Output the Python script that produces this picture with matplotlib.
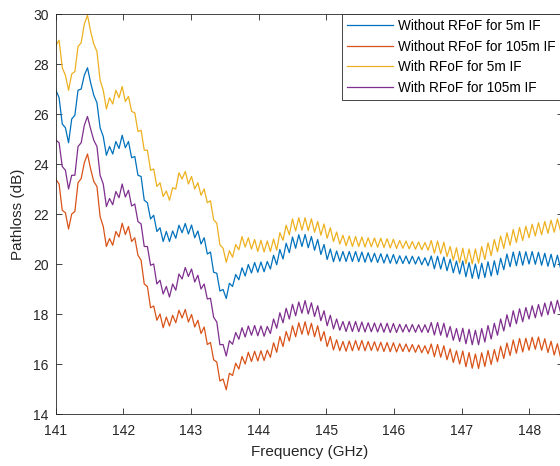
import numpy as np
import matplotlib
matplotlib.use('Agg')
import matplotlib.pyplot as plt

plt.rcParams['font.family'] = ['Liberation Sans', 'DejaVu Sans']

# frequency sweep (GHz)
freq = np.linspace(140.96, 148.46, 162)

# Without RFoF for 5m IF (blue)
pl_wo_5m = [
    27.50, 26.95, 26.65, 25.60, 25.45, 24.85, 25.80, 25.95, 26.95, 27.00,
    27.55, 27.85, 27.25, 26.75, 26.45, 25.45, 25.10, 24.35, 24.70, 24.40,
    24.90, 24.62, 25.15, 24.65, 24.90, 24.25, 24.30, 23.55, 23.50, 22.55,
    22.45, 21.80, 21.95, 21.30, 21.45, 20.90, 21.30, 20.90, 21.32, 21.03,
    21.55, 21.25, 21.62, 21.20, 21.56, 21.05, 21.32, 20.80, 21.05, 20.40,
    20.48, 19.67, 19.63, 18.92, 18.98, 18.62, 19.23, 19.10, 19.58, 19.37,
    19.85, 19.52, 19.98, 19.64, 20.06, 19.67, 20.08, 19.69, 20.10, 19.80,
    20.35, 19.97, 20.58, 20.20, 20.83, 20.45, 21.08, 20.63, 21.17, 20.70,
    21.18, 20.65, 21.10, 20.55, 20.98, 20.38, 20.78, 20.18, 20.60, 20.09,
    20.52, 20.11, 20.50, 20.10, 20.50, 20.10, 20.50, 20.09, 20.48, 20.07,
    20.45, 20.08, 20.43, 20.06, 20.41, 20.04, 20.39, 20.03, 20.38, 20.01,
    20.33, 20.02, 20.32, 20.01, 20.31, 20.00, 20.29, 19.97, 20.25, 19.93,
    20.32, 19.81, 20.31, 19.80, 20.28, 19.73, 20.19, 19.65, 20.12, 19.60,
    20.12, 19.49, 20.06, 19.43, 20.00, 19.41, 20.03, 19.46, 20.09, 19.52,
    20.13, 19.57, 20.23, 19.77, 20.40, 19.89, 20.48, 19.93, 20.50, 19.95,
    20.49, 20.00, 20.50, 19.99, 20.47, 19.95, 20.43, 19.91, 20.39, 19.87,
    20.35, 19.83,
]

# Without RFoF for 105m IF (orange)
pl_wo_105m = [
    23.90, 23.38, 23.20, 22.15, 22.05, 21.40, 22.00, 22.10, 23.25, 23.42,
    24.05, 24.40, 23.80, 23.30, 23.10, 21.90, 21.50, 20.70, 21.02, 20.75,
    21.30, 21.08, 21.63, 21.18, 21.50, 20.90, 21.05, 20.35, 20.15, 19.20,
    19.10, 18.25, 18.32, 17.75, 18.00, 17.45, 17.88, 17.52, 17.95, 17.65,
    18.15, 17.84, 18.18, 17.68, 17.98, 17.48, 17.75, 17.22, 17.48, 16.78,
    16.86, 16.17, 16.08, 15.32, 15.40, 14.97, 15.63, 15.54, 16.03, 15.80,
    16.30, 16.00, 16.47, 16.10, 16.51, 16.12, 16.53, 16.14, 16.55, 16.27,
    16.85, 16.47, 17.10, 16.70, 17.30, 16.92, 17.53, 17.09, 17.65, 17.19,
    17.69, 17.16, 17.63, 17.09, 17.53, 16.92, 17.30, 16.70, 17.10, 16.56,
    16.97, 16.53, 16.90, 16.51, 16.92, 16.53, 16.94, 16.55, 16.94, 16.53,
    16.90, 16.54, 16.89, 16.52, 16.87, 16.50, 16.86, 16.49, 16.85, 16.48,
    16.81, 16.50, 16.80, 16.49, 16.78, 16.47, 16.76, 16.45, 16.73, 16.41,
    16.80, 16.29, 16.78, 16.27, 16.73, 16.17, 16.61, 16.06, 16.53, 16.00,
    16.52, 15.89, 16.46, 15.83, 16.40, 15.82, 16.45, 15.90, 16.54, 15.98,
    16.58, 16.09, 16.71, 16.22, 16.84, 16.34, 16.96, 16.43, 17.02, 16.48,
    17.03, 16.55, 17.07, 16.59, 17.08, 16.55, 17.01, 16.46, 16.91, 16.36,
    16.81, 16.26,
]

# With RFoF for 5m IF (yellow)
pl_w_5m = [
    29.30, 28.75, 28.95, 27.85, 27.55, 26.95, 27.60, 27.70, 28.70, 28.85,
    29.60, 29.95, 29.30, 28.80, 28.50, 27.35, 26.95, 26.20, 26.65, 26.40,
    26.95, 26.65, 27.10, 26.50, 26.70, 26.10, 26.05, 25.30, 25.35, 24.55,
    24.55, 23.75, 23.80, 23.10, 23.25, 22.70, 22.92, 22.55, 23.05, 23.00,
    23.65, 23.40, 23.70, 23.20, 23.50, 23.00, 23.25, 22.75, 23.00, 22.45,
    22.53, 21.77, 21.63, 20.77, 20.63, 20.07, 20.53, 20.27, 20.78, 20.57,
    21.10, 20.68, 21.05, 20.60, 20.98, 20.50, 20.95, 20.48, 20.92, 20.50,
    21.00, 20.55, 21.25, 20.95, 21.55, 21.17, 21.80, 21.32, 21.85, 21.35,
    21.85, 21.33, 21.81, 21.27, 21.70, 21.15, 21.60, 21.03, 21.45, 20.90,
    21.28, 20.80, 21.15, 20.73, 21.12, 20.70, 21.10, 20.70, 21.08, 20.68,
    21.05, 20.69, 21.04, 20.67, 21.03, 20.66, 21.01, 20.64, 20.99, 20.62,
    20.94, 20.63, 20.92, 20.61, 20.90, 20.59, 20.88, 20.57, 20.86, 20.55,
    20.94, 20.43, 20.92, 20.41, 20.87, 20.30, 20.70, 20.15, 20.65, 20.05,
    20.63, 20.01, 20.60, 20.00, 20.60, 20.03, 20.70, 20.18, 20.85, 20.33,
    20.98, 20.49, 21.12, 20.62, 21.25, 20.75, 21.38, 20.86, 21.46, 20.94,
    21.51, 21.05, 21.59, 21.12, 21.65, 21.17, 21.70, 21.23, 21.75, 21.27,
    21.80, 21.32,
]

# With RFoF for 105m IF (purple)
pl_w_105m = [
    25.50, 24.95, 24.85, 23.90, 23.75, 23.00, 23.55, 23.55, 24.70, 24.85,
    25.55, 25.90, 25.40, 24.95, 24.70, 23.55, 23.20, 22.30, 22.62, 22.37,
    22.90, 22.65, 23.20, 22.68, 22.95, 22.32, 22.40, 21.70, 21.60, 20.70,
    20.70, 19.95, 20.00, 19.20, 19.35, 18.80, 19.10, 18.68, 19.20, 18.95,
    19.60, 19.40, 19.86, 19.50, 19.80, 19.28, 19.55, 19.00, 19.20, 18.60,
    18.63, 17.87, 17.68, 16.77, 16.78, 16.32, 16.93, 16.79, 17.26, 16.99,
    17.45, 17.08, 17.52, 17.15, 17.54, 17.13, 17.52, 17.11, 17.50, 17.22,
    17.80, 17.43, 18.05, 17.65, 18.23, 17.80, 18.39, 17.93, 18.48, 18.03,
    18.54, 18.00, 18.45, 17.90, 18.33, 17.73, 18.13, 17.53, 17.95, 17.40,
    17.80, 17.35, 17.70, 17.30, 17.70, 17.30, 17.70, 17.29, 17.68, 17.28,
    17.65, 17.29, 17.64, 17.28, 17.63, 17.27, 17.63, 17.26, 17.62, 17.26,
    17.59, 17.28, 17.58, 17.28, 17.58, 17.27, 17.57, 17.27, 17.57, 17.26,
    17.66, 17.16, 17.66, 17.15, 17.63, 17.07, 17.50, 16.95, 17.42, 16.90,
    17.43, 16.81, 17.39, 16.77, 17.35, 16.77, 17.42, 16.88, 17.54, 17.00,
    17.63, 17.15, 17.80, 17.32, 17.97, 17.49, 18.13, 17.61, 18.21, 17.69,
    18.26, 17.80, 18.33, 17.85, 18.38, 17.91, 18.44, 17.97, 18.50, 18.02,
    18.55, 18.07,
]

labels = ['Without RFoF for 5m IF', 'Without RFoF for 105m IF',
          'With RFoF for 5m IF', 'With RFoF for 105m IF']
colors = ['#0072BD', '#D95319', '#EDB120', '#7E2F8E']
dark = '#262626'

fig = plt.figure(figsize=(5.6, 4.66), dpi=100)
ax = fig.add_axes([55.5 / 560, 52 / 466, 507.75 / 560, 400 / 466])

for series, c, lab in zip([pl_wo_5m, pl_wo_105m, pl_w_5m, pl_w_105m], colors, labels):
    ax.plot(freq, series, color=c, lw=0.9, label=lab)

ax.set_xlim(141, 148.5)
ax.set_ylim(14, 30)
ax.set_xticks(range(141, 149))
ax.set_yticks(range(14, 31, 2))
ax.tick_params(direction='in', top=True, right=True, length=4, width=0.6,
               colors=dark, labelsize=10)
ax.tick_params(axis='x', pad=7)
ax.tick_params(axis='y', pad=5)
for s in ax.spines.values():
    s.set_color(dark)
    s.set_linewidth(0.6)

ax.set_xlabel('Frequency (GHz)', fontsize=11, color=dark)
ax.set_ylabel('Pathloss (dB)', fontsize=11, color=dark)
ax.xaxis.set_label_coords(0.5, -0.078)
ax.yaxis.set_label_coords(-0.060, 0.5)

leg = ax.legend(loc='upper left', bbox_to_anchor=(341.7 / 560, 1 - 14 / 466, 0.5, 0),
                bbox_transform=fig.transFigure, mode='expand', fancybox=False,
                edgecolor=dark, framealpha=1, fontsize=9.8, handlelength=3.4,
                handletextpad=0.35, borderpad=0.38, borderaxespad=0, labelspacing=0.48)
leg.get_frame().set_linewidth(0.6)

fig.savefig('out.png', dpi=100)
